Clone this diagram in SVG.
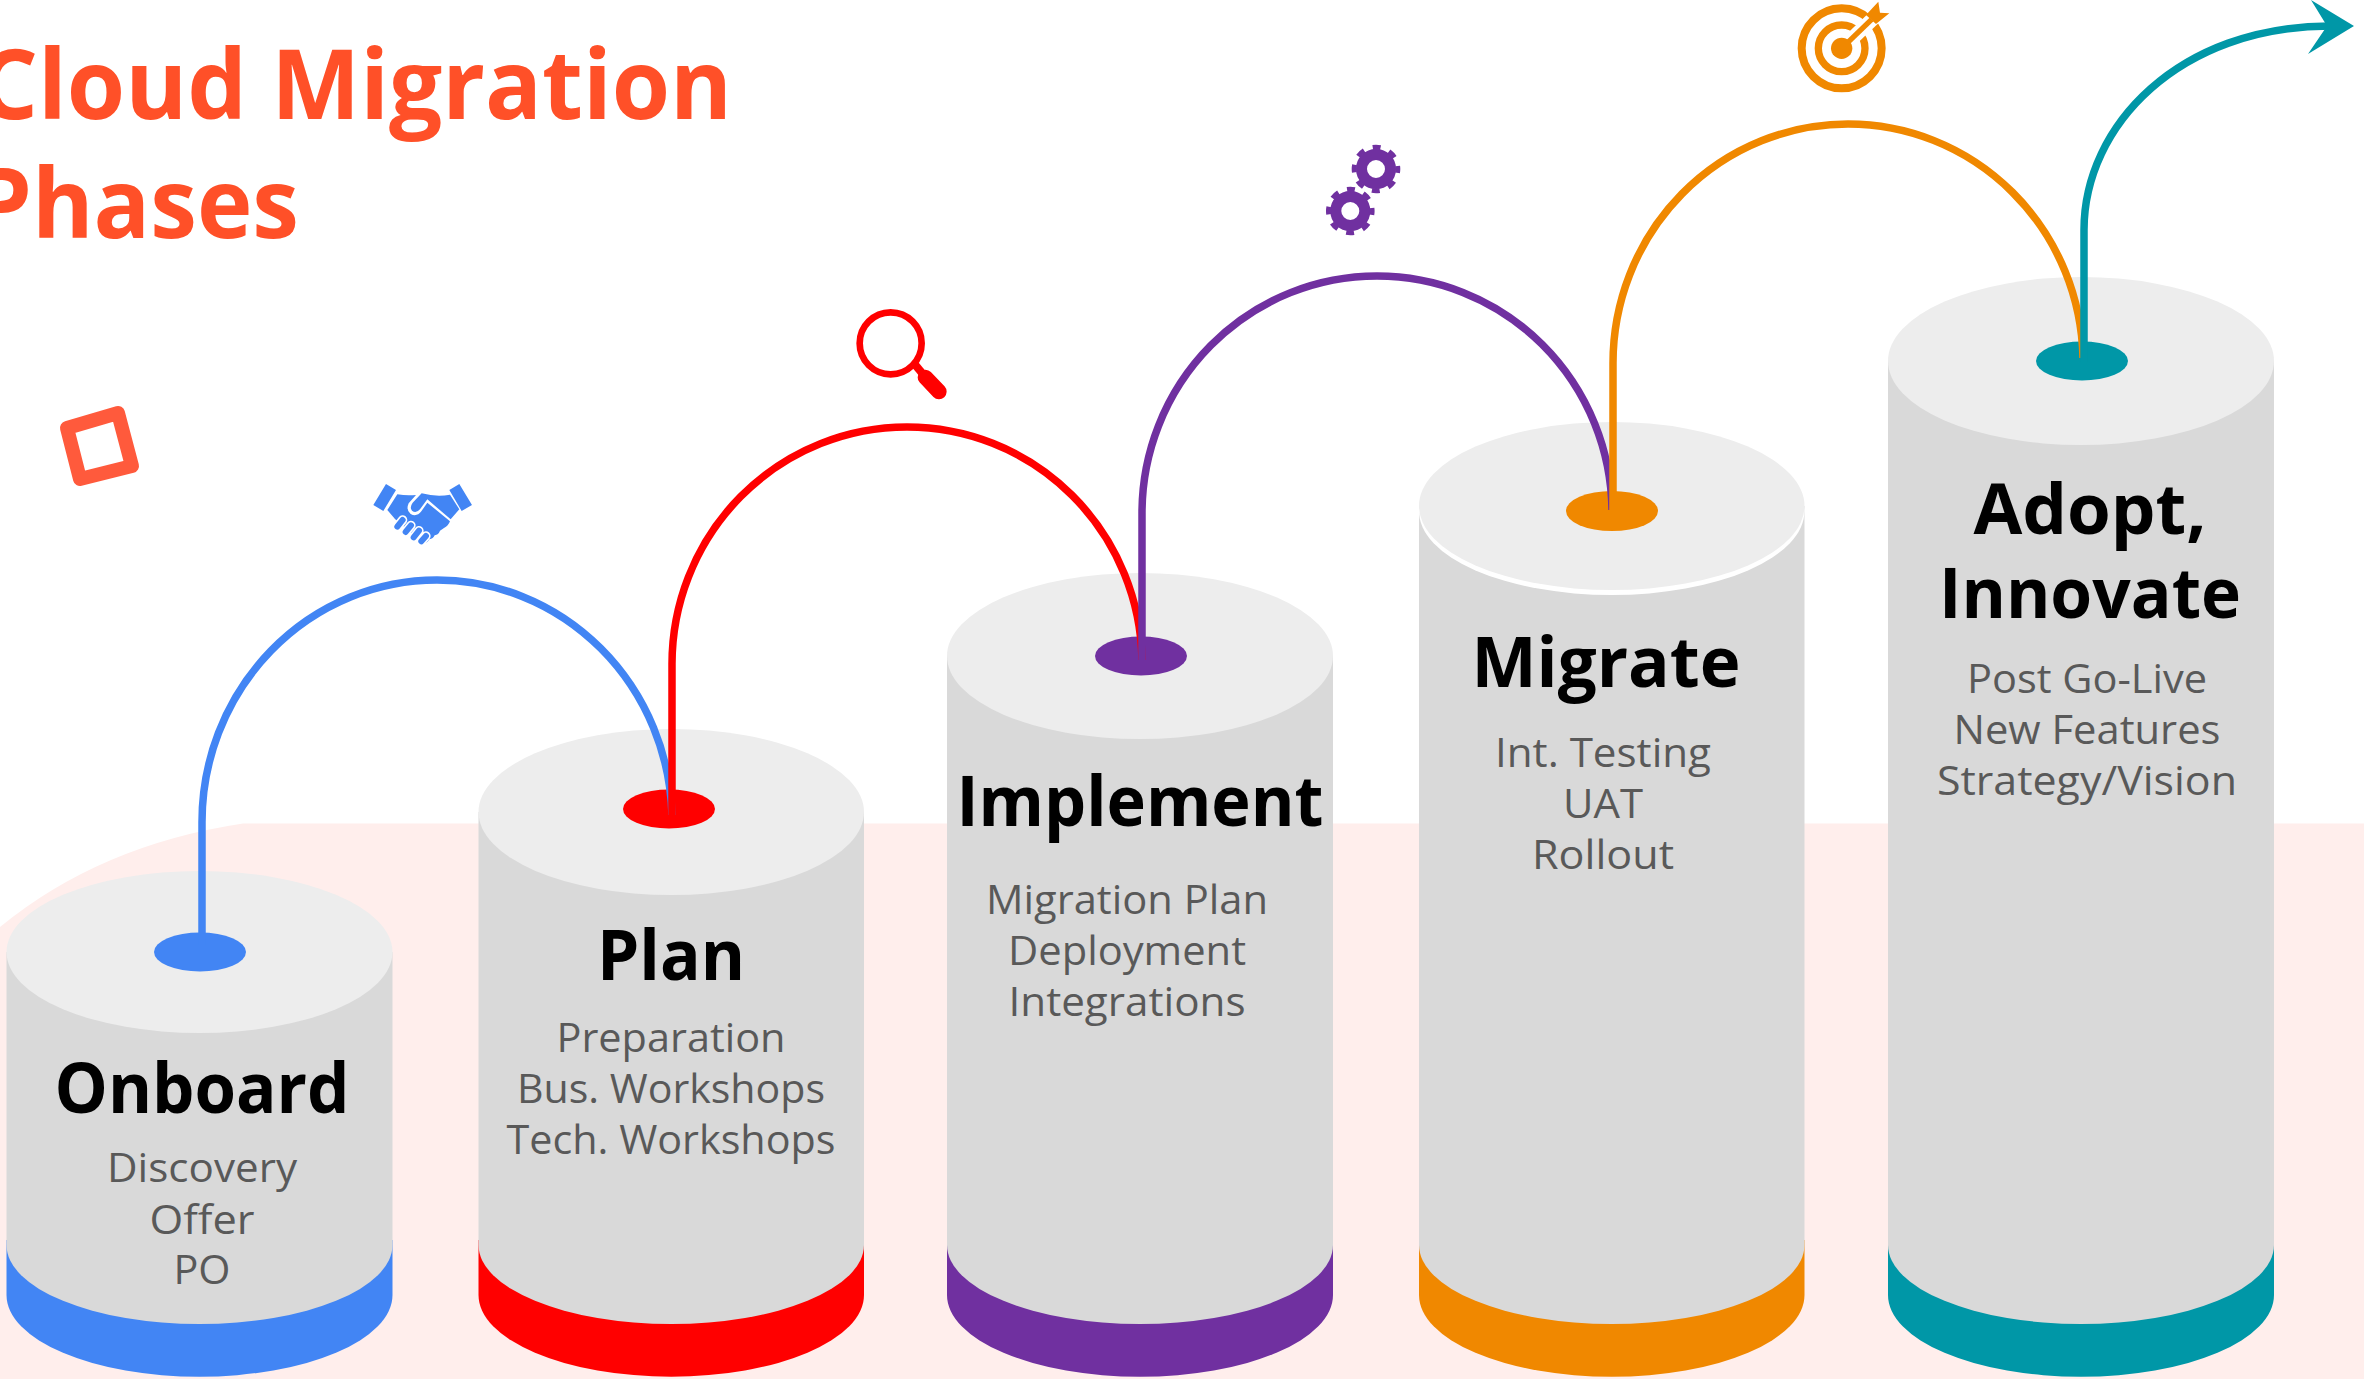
<svg xmlns="http://www.w3.org/2000/svg" xmlns:xlink="http://www.w3.org/1999/xlink" width="2364" height="1379" viewBox="0 0 2364 1379">
<style>
.side{fill:#D9D9D9}.top{fill:#EDEDED}
.t{font-family:"Open Sans","Noto Sans","Liberation Sans",sans-serif;text-anchor:middle}
.h{font-size:70px;font-weight:700;fill:#000}
.b{font-size:40px;fill:#595959}
.title{font-family:"Open Sans","Noto Sans","Liberation Sans",sans-serif;font-size:96px;font-weight:700;fill:#FF5028}
.arc{fill:none;stroke-width:7.500}
.blue{fill:#4285F4}.red{fill:#FF0000}.purple{fill:#7030A0}.orange{fill:#F08800}.teal{fill:#0097A7}
</style>
<defs>
<symbol id="gear" overflow="visible" viewBox="-30 -30 60 60" width="60" height="60">
<circle r="14.500" fill="none" stroke="#7030A0" stroke-width="11"/>
<circle r="21.800" fill="none" stroke="#7030A0" stroke-width="5" stroke-dasharray="8 9.120" stroke-dashoffset="4"/>
</symbol>
</defs>
<rect width="2364" height="1379" fill="#FFFFFF"/>
<path id="band" d="M0 927Q100 845 243 823.500H2364V1379H0Z" fill="#FFEEEC"/>

<g id="title">
<text class="title" x="-22" y="119" textLength="754" lengthAdjust="spacingAndGlyphs">Cloud Migration</text>
<text class="title" x="-27" y="238" textLength="326" lengthAdjust="spacingAndGlyphs">Phases</text>
</g>
<path id="deco" d="M67 428L118 413 132 466 80 479Z" fill="none" stroke="#FF5A3C" stroke-width="14" stroke-linejoin="round"/>

<g id="onboard">
<path class="blue" d="M6.500 1240V1295A193 81.700 0 0 0 392.500 1295V1240Z"/>
<path class="side" d="M6.500 952V1245A193 79 0 0 0 392.500 1245V952Z"/>
<ellipse class="top" cx="199.500" cy="952" rx="193" ry="81"/>
<ellipse class="blue" cx="200" cy="952" rx="46" ry="19.500"/>
<text class="t h" x="202" y="1113" textLength="295" lengthAdjust="spacingAndGlyphs">Onboard</text>
<text class="t b" x="202" y="1182" textLength="190" lengthAdjust="spacingAndGlyphs">Discovery</text>
<text class="t b" x="202" y="1234" textLength="105" lengthAdjust="spacingAndGlyphs">Offer</text>
<text class="t b" x="202" y="1284" textLength="57" lengthAdjust="spacingAndGlyphs">PO</text>
<g transform="translate(340 440) scale(.3333)">
<path class="blue" d="M138 132L168 150 130 213 100 195ZM358 132L396 195 365 213 328 150Z"/>
<path class="blue" d="M172 163Q200 168 228 165L206 190Q197 210 212 222 230 232 244 214L262 188 330 244Q325 258 312 264L300 272Q296 284 284 286 280 296 268 298 262 310 250 310L165 237 142 210Z"/>
<path class="blue" d="M245 160Q290 172 330 164L358 208 332 238 262 178 240 208Q228 222 216 212 208 202 218 188Z"/>
<g stroke="#FFFFFF" stroke-width="28" stroke-linecap="round"><path d="M188 240L172 260M213 256L197 276M237 272L221 292M258 288L244 304"/></g>
<g stroke="#4285F4" stroke-width="18" stroke-linecap="round"><path d="M188 240L172 260M213 256L197 276M237 272L221 292M258 288L244 304"/></g>
</g>
</g>

<g id="plan">
<path class="red" d="M478.500 1240V1295A192.750 81.700 0 0 0 864 1295V1240Z"/>
<path class="side" d="M478.500 812V1245A192.750 79 0 0 0 864 1245V812Z"/>
<ellipse class="top" cx="671.250" cy="812" rx="192.750" ry="83"/>
<ellipse class="red" cx="669" cy="809" rx="46" ry="19.500"/>
<text class="t h" x="671" y="980" textLength="148" lengthAdjust="spacingAndGlyphs">Plan</text>
<text class="t b" x="671" y="1052" textLength="229" lengthAdjust="spacingAndGlyphs">Preparation</text>
<text class="t b" x="671" y="1103" textLength="308" lengthAdjust="spacingAndGlyphs">Bus. Workshops</text>
<text class="t b" x="671" y="1154" textLength="329" lengthAdjust="spacingAndGlyphs">Tech. Workshops</text>
<g transform="translate(820 280) scale(.3333)">
<circle cx="212" cy="190" r="93" fill="none" stroke="#FF0000" stroke-width="20"/>
<path d="M282 250L312 286" stroke="#FF0000" stroke-width="24" fill="none"/>
<path d="M316 292L357 335" stroke="#FF0000" stroke-width="46" stroke-linecap="round" fill="none"/>
</g>
</g>

<g id="implement">
<path class="purple" d="M947 1240V1295A193 81.700 0 0 0 1333 1295V1240Z"/>
<path class="side" d="M947 656V1245A193 79 0 0 0 1333 1245V656Z"/>
<ellipse class="top" cx="1140" cy="656" rx="193" ry="83"/>
<ellipse class="purple" cx="1141" cy="656" rx="46" ry="19.500"/>
<text class="t h" x="1140" y="826" textLength="367" lengthAdjust="spacingAndGlyphs">Implement</text>
<text class="t b" x="1127" y="914" textLength="282" lengthAdjust="spacingAndGlyphs">Migration Plan</text>
<text class="t b" x="1127" y="965" textLength="238" lengthAdjust="spacingAndGlyphs">Deployment</text>
<text class="t b" x="1127" y="1016" textLength="237" lengthAdjust="spacingAndGlyphs">Integrations</text>
<use href="#gear" x="1346" y="139"/>
<use href="#gear" x="1320.300" y="181"/>
</g>

<g id="migrate">
<path class="orange" d="M1419 1240V1295A192.750 81.700 0 0 0 1804.500 1295V1240Z"/>
<path class="side" d="M1419 506V1245A192.750 79 0 0 0 1804.500 1245V506Z"/>
<ellipse cx="1611.750" cy="511" rx="192.750" ry="84" fill="#FFFFFF"/>
<ellipse class="top" cx="1611.750" cy="506" rx="192.750" ry="84"/>
<ellipse class="orange" cx="1612" cy="511" rx="46" ry="20"/>
<text class="t h" x="1606" y="687" textLength="269" lengthAdjust="spacingAndGlyphs">Migrate</text>
<text class="t b" x="1603" y="767" textLength="216" lengthAdjust="spacingAndGlyphs">Int. Testing</text>
<text class="t b" x="1603" y="818" textLength="80" lengthAdjust="spacingAndGlyphs">UAT</text>
<text class="t b" x="1603" y="869" textLength="142" lengthAdjust="spacingAndGlyphs">Rollout</text>
<g transform="translate(1770 0) scale(.3333)">
<g fill="none" stroke="#F08800">
<circle cx="215" cy="145" r="120" stroke-width="24"/>
<circle cx="215" cy="145" r="70" stroke-width="22"/>
</g>
<path d="M215 145L345 22" stroke="#FFFFFF" stroke-width="42" fill="none"/>
<circle cx="215" cy="145" r="32" fill="#F08800"/>
<path d="M215 145L305 58" stroke="#F08800" stroke-width="16" fill="none"/>
<path d="M325 5L330 38 358 40 318 72 288 45Z" fill="#F08800"/>
</g>
</g>

<g id="adopt">
<path class="teal" d="M1888 1240V1295A193 81.700 0 0 0 2274 1295V1240Z"/>
<path class="side" d="M1888 361V1245A193 79 0 0 0 2274 1245V361Z"/>
<ellipse class="top" cx="2081" cy="361" rx="193" ry="84"/>
<ellipse class="teal" cx="2082" cy="361" rx="46" ry="19.500"/>
<text class="t h" x="2090" y="534" textLength="233" lengthAdjust="spacingAndGlyphs">Adopt,</text>
<text class="t h" x="2090" y="618" textLength="302" lengthAdjust="spacingAndGlyphs">Innovate</text>
<text class="t b" x="2087" y="693" textLength="240" lengthAdjust="spacingAndGlyphs">Post Go-Live</text>
<text class="t b" x="2087" y="744" textLength="267" lengthAdjust="spacingAndGlyphs">New Features</text>
<text class="t b" x="2087" y="795" textLength="300" lengthAdjust="spacingAndGlyphs">Strategy/Vision</text>
</g>

<g id="connectors">
<path class="arc" stroke="#4285F4" d="M202 945V822A235 242 0 0 1 437 580 235 242 0 0 1 672 815"/>
<path class="arc" stroke="#FF0000" d="M672 818V664A235 237 0 0 1 907 427 235 237 0 0 1 1142 660"/>
<path class="arc" stroke="#7030A0" d="M1142 664V513A235 237 0 0 1 1377 276 235 237 0 0 1 1612 510"/>
<path class="arc" stroke="#F08800" d="M1613 514V363A235 239 0 0 1 1848 124 235 239 0 0 1 2083 358"/>
<path class="arc" stroke="#0097A7" d="M2084 362V230C2084 125 2180 26 2330 26"/>
<path class="teal" d="M2311 0L2354 26 2308 54 2327 26Z"/>
</g>
</svg>
